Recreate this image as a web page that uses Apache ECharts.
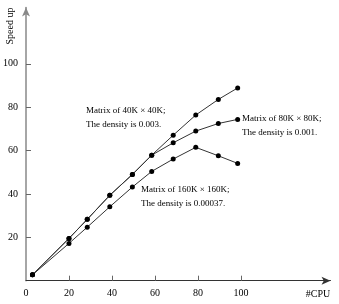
<!DOCTYPE html>
<html>
<head>
<meta charset="utf-8">
<script src="https://cdn.jsdelivr.net/npm/echarts@6/dist/echarts.min.js"></script>
<style>html,body{margin:0;padding:0;background:#fff;}#c{width:339px;height:304px;}</style>
</head>
<body>
<div id="c"></div>
<script>
var cpus = [3, 20, 28.5, 39, 49.5, 58.5, 68.5, 79, 89.5, 98.5];
var speed40K = [2.7, 19.5, 28.3, 39.4, 49.0, 57.9, 67.1, 76.4, 83.6, 88.9];
var speed80K = [2.7, 19.5, 28.3, 39.4, 49.0, 57.9, 63.6, 69.0, 72.5, 74.4];
var speed160K = [2.7, 17.2, 24.7, 34.1, 43.2, 50.4, 56.1, 61.5, 57.6, 54.1];
var xTickLabels = [0, 20, 40, 60, 80, 100];
var xTicks = [20, 40, 60, 80, 100];
var yTickLabels = [20, 40, 60, 80, 100];
var annotations = [
  ['Matrix of 40K \u00d7 40K;', 'The density is 0.003.'],
  ['Matrix of 80K \u00d7 80K;', 'The density is 0.001.'],
  ['Matrix of 160K \u00d7 160K;', 'The density is 0.00037.']
];
var yName = 'Speed up';
var xName = '#CPU';

function pairs(ys) { return cpus.map(function (x, i) { return [x, ys[i]]; }); }
var font = 'Liberation Serif';
var chart = echarts.init(document.getElementById('c'), null, {renderer: 'canvas'});
function mkSeries(ys) {
  return {
    type: 'line', data: pairs(ys), symbol: 'circle', symbolSize: 5, showAllSymbol: true,
    itemStyle: {color: '#000'}, lineStyle: {color: '#333', width: 1}, animation: false, z: 3
  };
}
function annot(lines, x, y) {
  return lines.map(function (t, i) {
    return {type: 'text', left: x, top: y + i * 14, style: {text: t, font: '9px ' + font, fill: '#000'}};
  });
}
var graphics = [].concat(
  annot(annotations[0], 86, 106),
  annot(annotations[1], 242, 114),
  annot(annotations[2], 141, 185),
  [
    {type: 'text', x: 10, y: 26, rotation: Math.PI / 2,
     style: {text: yName, font: '10px ' + font, fill: '#000', align: 'center', verticalAlign: 'middle'}},
    {type: 'text', x: 318, y: 294,
     style: {text: xName, font: '10px ' + font, fill: '#000', align: 'center', verticalAlign: 'middle'}}
  ]
);
chart.setOption({
  animation: false,
  grid: {left: 23, right: 8.5, top: 7.5, bottom: 23.3, containLabel: false},
  xAxis: {
    type: 'value', min: 0, max: 141.7, interval: 20,
    axisLine: {show: true, lineStyle: {color: '#333', width: 1}, symbol: ['none', 'arrow'], symbolSize: [6, 9]},
    axisTick: {show: true, inside: true, length: 5, lineStyle: {color: '#666'}, customValues: xTicks},
    axisLabel: {margin: 8, fontFamily: font, fontSize: 10, color: '#000', customValues: xTickLabels},
    splitLine: {show: false}
  },
  yAxis: {
    type: 'value', min: 0, max: 126, interval: 20,
    axisLine: {show: true, lineStyle: {color: '#888', width: 1.5}, symbol: ['none', 'arrow'], symbolSize: [6, 9]},
    axisTick: {show: true, inside: true, length: 5, lineStyle: {color: '#666'}, customValues: yTickLabels},
    axisLabel: {margin: 8, fontFamily: font, fontSize: 10, color: '#000', customValues: yTickLabels},
    splitLine: {show: false}
  },
  series: [mkSeries(speed40K), mkSeries(speed80K), mkSeries(speed160K)],
  graphic: graphics
});
</script>
</body>
</html>
